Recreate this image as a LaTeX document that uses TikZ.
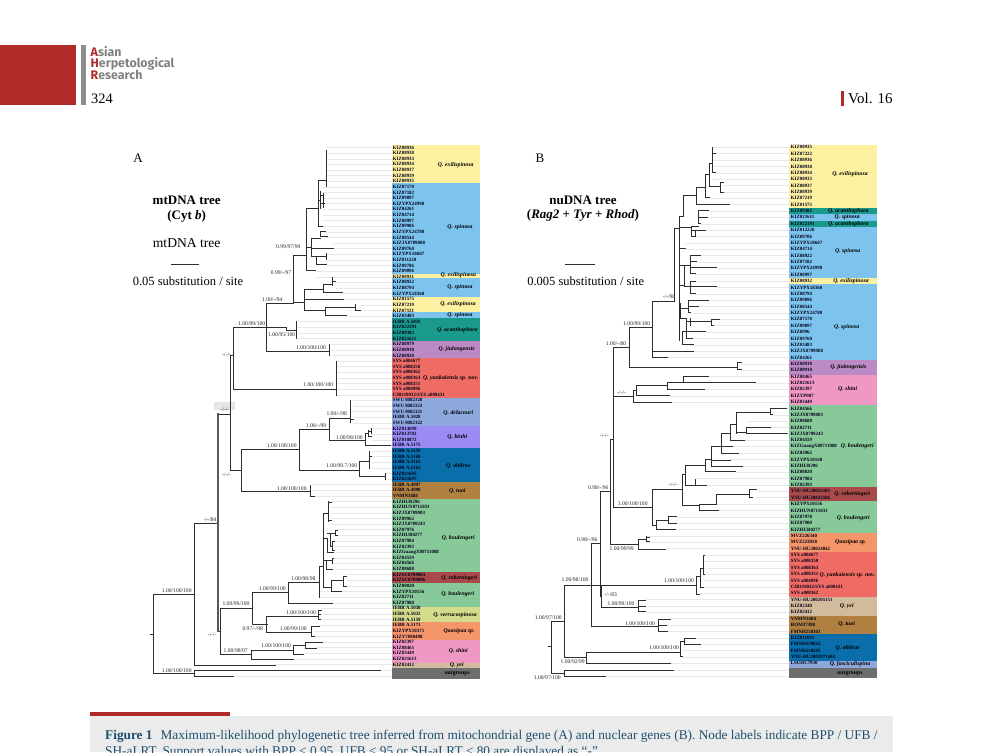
\documentclass[tikz,border=0pt]{standalone}
\usepackage{fontspec}
\setmainfont{Liberation Serif}
\newfontfamily\hdfont{Fira Sans}
\definecolor{cEx}{HTML}{FDF0A0}\definecolor{cSp}{HTML}{7CC4EE}\definecolor{cAc}{HTML}{1A9A8C}
\definecolor{cJi}{HTML}{BB8AC4}\definecolor{cYu}{HTML}{EF6C64}\definecolor{cDe}{HTML}{8EA8DC}
\definecolor{cBi}{HTML}{9A8CF2}\definecolor{cAh}{HTML}{0A6EAA}\definecolor{cTu}{HTML}{B08040}
\definecolor{cBo}{HTML}{88C99A}\definecolor{cRo}{HTML}{A84A4A}\definecolor{cVe}{HTML}{D3DC8C}
\definecolor{cQu}{HTML}{F4956A}\definecolor{cSh}{HTML}{F098C4}\definecolor{cYe}{HTML}{D2BA9C}
\definecolor{cOu}{HTML}{6E6E6E}\definecolor{cRed}{HTML}{B02A2A}\definecolor{cBar}{HTML}{8C8C8C}
\definecolor{cCap}{HTML}{1D4F6E}\definecolor{cBand}{HTML}{EBEBEB}\definecolor{cTip}{HTML}{E8E8E8}
\definecolor{cBr}{HTML}{2E2E2E}\definecolor{cHd}{HTML}{808080}
\tikzset{
 br/.style={draw=cBr,line width=1pt,line cap=rect},
 thickbr/.style={draw=cBr!80,line width=1.5pt,line cap=rect},
 tipline/.style={draw=cTip,line width=.45pt},
 taxon/.style={font=\fontsize{4.9}{5}\selectfont\bfseries,inner sep=0pt,anchor=west,text=black!90!blue},
 clade/.style={font=\fontsize{5.8}{7}\selectfont\bfseries\itshape,inner sep=0pt},
 outg/.style={font=\fontsize{5.8}{7}\selectfont\bfseries,inner sep=0pt},
 support/.style={font=\fontsize{5.6}{6}\selectfont,inner sep=0pt,text=black!85},
 ttl/.style={font=\fontsize{13}{15}\selectfont\bfseries,inner sep=0pt},
 sub/.style={font=\fontsize{13}{15}\selectfont,inner sep=0pt},
 panel/.style={font=\fontsize{13}{15}\selectfont,inner sep=0pt},
 hd/.style={font=\hdfont\fontsize{12.4}{13}\selectfont\bfseries,inner sep=0pt,anchor=west,text=cHd},
 pagenum/.style={font=\fontsize{14.4}{16}\selectfont,inner sep=0pt,anchor=west},
 captxt/.style={font=\fontsize{13.3}{15}\selectfont,inner sep=0pt,anchor=west,text=cCap},
}
\begin{document}
\begin{tikzpicture}[x=1pt,y=-1pt]
\useasboundingbox (0,0) rectangle (987,752);
% header
\fill[cRed] (0,45) rectangle (76,105);
\fill[cBar] (81,45) rectangle (85.7,105);
\node[hd] (j1) at (90.5,51.7) {\textcolor{cRed}{A}sian};
\node[hd] (j2) at (90.5,63.5) {\textcolor{cRed}{H}erpetological};
\node[hd] (j3) at (90.5,75) {\textcolor{cRed}{R}esearch};
\node[pagenum] (pg) at (91,99) {324};
\fill[cRed] (841,91) rectangle (844,106);
\node[pagenum,font=\fontsize{15}{16}\selectfont] (vol) at (848,98.5) {Vol. 16};
% caption
\fill[cBand] (90,716) rectangle (893,752);
\fill[cRed] (90,712) rectangle (230,716);
\node[captxt] (cap1) at (105,736) {\textbf{Figure 1}\hspace{.6em}Maximum-likelihood phylogenetic tree inferred from mitochondrial gene (A) and nuclear genes (B). Node labels indicate BPP / UFB /};
\node[captxt] (cap2) at (105,752) {SH-aLRT. Support values with BPP < 0.95, UFB < 95 or SH-aLRT < 80 are displayed as “-”.};
% panel titles
\node[panel] (pA) at (138,158) {A};
\node[ttl] (tA1) at (186.7,200.7) {mtDNA tree};
\node[ttl] (tA2) at (186.7,216) {(Cyt \textit{b})};
\node[sub,font=\fontsize{13.6}{15}\selectfont] (tA3) at (186.7,242.7) {mtDNA tree};
\coordinate (sA1) at (171.7,264.3); \coordinate (sA2) at (198.3,264.3);
\draw[br] (sA1) -- (sA2);
\node[sub,font=\fontsize{12.5}{15}\selectfont] (tA4) at (188,281) {0.05 substitution / site};
\node[panel] (pB) at (540,158) {B};
\node[ttl] (tB1) at (583,200.7) {nuDNA tree};
\node[ttl] (tB2) at (583,215.7) {(\textit{Rag2} + \textit{Tyr} + \textit{Rhod})};
\coordinate (sB1) at (565,264.7); \coordinate (sB2) at (594,264.7);
\draw[br] (sB1) -- (sB2);
\node[sub,font=\fontsize{12.5}{15}\selectfont] (tB3) at (585.7,281) {0.005 substitution / site};
% bands A
\foreach \a/\b/\c in {145/183/cEx,183/274/cSp,274/278.3/cEx,278.3/297/cSp,297/312/cEx,312/318/cSp,318/341/cAc,341/358/cJi,358/398/cYu,398/426/cDe,426/448/cBi,448/482/cAh,482/499/cTu,499/572/cBo,572/583/cRo,583/607/cBo,607/622/cVe,622/640/cQu,640/663/cSh,663/668/cYe,668/679/cOu}
 \fill[fill=\c] (392,\a) rectangle (480,\b);
% bands B
\foreach \a/\b/\c in {145/207.7/cEx,207.7/214/cAc,214/220.7/cSp,220.7/227.3/cAc,227.3/278/cSp,278/284/cEx,284/360/cSp,360/375/cJi,375/405/cSh,405/487.3/cBo,487.3/500.7/cRo,500.7/533.3/cBo,533.3/552.3/cQu,552.3/596.7/cYu,596.7/615.7/cYe,615.7/634.3/cTu,634.3/661/cAh,661/667.7/cDe,667.7/678.3/cOu}
 \fill[fill=\c] (789.3,\a) rectangle (876.7,\b);
% taxa A
\foreach \p/\t [count=\n] in {327/KIZ08936,327/KIZ08938,327/KIZ08933,327/KIZ08934,327/KIZ08937,327/KIZ08939,325/KIZ08935,323/KIZ07170,323/KIZ07182,324/KIZ09097,324/KIZYPX24998,323/KIZ04261,323/KIZ04714,324/KIZ08997,322/KIZ09906,324/KIZYPX24780,325/KIZ08544,333/KIZJX8709008,327/KIZ09760,327/KIZYPX18607,327/KIZ011220,327/KIZ09786,315/KIZ09096,315/KIZ08931,335/KIZ08922,335/KIZ08794,342/KIZYPX18360,343/KIZ01575,360/KIZ07219,347/KIZ07121,347/KIZ03483,299/IEBR A.5035,298/KIZ022191,298/KIZ09383,298/KIZ021611,331/KIZ08979,331/KIZ08918,331/KIZ08920,336/SYS a004677,336/SYS a008350,336/SYS a008362,336/SYS a008363,336/SYS a008351,336/SYS a004996,336/{CIB119032/SYS a009431},353/SWU 0082328,353/SWU 0082323,353/SWU 0082321,353/IEBR A.5028,353/SWU 0082322,372/KIZ013699,372/KIZ013702,372/KIZ010872,390/IEBR A.5175,372/IEBR A.5159,372/IEBR A.5160,372/IEBR A.5161,372/IEBR A.5162,386/KIZ021695,386/KIZ021697,312/IEBR A.4997,312/IEBR A.4998,315/VNMN3484,331/KIZHUB296,331/KIZHUN0711031,331/KIZJX8709003,331/KIZ09962,331/KIZJX8709243,337/KIZ07976,337/KIZHUB0277,335/KIZ07984,335/KIZ02393,333/KIZGuangX80711088,333/KIZ04559,333/KIZ04566,333/KIZ08688,347/KIZSC8709003,347/KIZSC8709006,342/KIZ08020,320/KIZYPX10156,320/KIZ02711,333/KIZ07980,321/IEBR A.5038,320/IEBR A.5032,320/IEBR A.5159,319/IEBR A.5171,314/KIZYPX10371,314/KIZY7080408,322/KIZ02397,317/KIZ08465,303/KIZ03449,293/KIZ021613,275/KIZ02412}{
 \pgfmathsetmacro\yy{147.5+5.62*(\n-1)}
 \draw[tipline] (\p,\yy) -- (392,\yy);
 \node[taxon] (ta\n) at (392.7,\yy) {\t};
}
\coordinate (oa1) at (380,670.7); \coordinate (oa2) at (233,676.3);
\coordinate (oa1e) at (392,670.7); \coordinate (oa2e) at (392,676.3);
\draw[tipline] (oa1) -- (oa1e); \draw[tipline] (oa2) -- (oa2e);
% taxa B
\foreach \p/\t [count=\n] in {712/KIZ08935,715/KIZ07222,713/KIZ08936,713/KIZ08938,715/KIZ08934,713/KIZ08933,723/KIZ08937,720/KIZ08939,710/KIZ07219,729/KIZ01575,708/KIZ09382,707/KIZ021611,700/KIZ022191,705/KIZ012220,695/KIZ09706,685/KIZYPX18607,686/KIZ04714,700/KIZ08922,696/KIZ07182,716/KIZYPX24998,695/KIZ08997,696/KIZ08932,716/KIZYPX18360,695/KIZ08794,708/KIZ09096,698/KIZ08544,690/KIZYPX24780,719/KIZ07170,711/KIZ09097,705/KIZ8996,692/KIZ09760,690/KIZ03483,693/KIZJX0709008,668/KIZ04261,741/KIZ08918,741/KIZ08910,708/KIZ08465,755/KIZ021613,704/KIZ02397,669/KIZYP087,671/KIZ03449,787/KIZ04566,771/KIZJX0709003,747/KIZ08688,770/KIZ02711,788/KIZJX0709243,744/KIZ04559,732/KIZGuangX80711088,738/KIZ03962,730/KIZYPX10160,743/KIZHUB296,735/KIZ08020,696/KIZ07984,706/KIZ02393,757/YNU-HU20025185,757/YNU-HU20025186,717/KIZYPX10156,718/KIZHUN0711031,677/KIZ07978,677/KIZ07980,675/KIZHUB0277,646/MVZ226340,646/MVZ223858,666/YNU-HU20024042,703/SYS a004677,703/SYS a008350,703/SYS a008363,703/SYS a008351,704/SYS a004996,704/{CIB119032/SYS a009431},700/SYS a008362,646/YNU-HU200205151,646/KIZ02340,646/KIZ02412,671/VNMN1604,667/ROM37398,668/FMNH258303,696/KIZ011695,700/FMNH259022,682/FMNH258205,682/YNU-HU2002071404,671/LSUHC7930}{
 \pgfmathsetmacro\yy{147.3+6.37*(\n-1)}
 \draw[tipline] (\p,\yy) -- (789.3,\yy);
 \node[taxon] (tb\n) at (790.7,\yy) {\t};
}
\coordinate (ob1) at (673,670); \coordinate (ob2) at (606,676);
\coordinate (ob1e) at (789,670); \coordinate (ob2e) at (789,676);
\draw[tipline] (ob1) -- (ob1e); \draw[tipline] (ob2) -- (ob2e);
% clades A
\foreach \x/\y/\t [count=\n] in {455.7/165.3/Q. exilispinosa,460/227/Q. spinosa,458.3/275.6/Q. exilispinosa,460/286.7/Q. spinosa,458/304/Q. exilispinosa,460/314.7/Q. spinosa,457.3/330/Q. acanthophora,456.7/349.3/Q. jiulongensis,450.7/377.7/Q. yunkaiensis sp. nov.,458.3/412.7/Q. delacouri,457.3/437.3/Q. binhi,458.3/466/Q. ahlirae,457.3/490.7/Q. tuoi,458.3/537.7/Q. boulengeri,459.3/578.3/Q. robertingeri,457.7/594.3/Q. boulengeri,455/615/Q. verrucospinosa,459/631/Quasipaa sp.,458.3/651/Q. shini,456.7/665/Q. yei}
 \node[clade] (ca\n) at (\x,\y) {\t};
\node[outg] (caO) at (457.3,673.7) {outgroups};
% clades B
\foreach \x/\y/\t [count=\n] in {850/174.3/Q. exilispinosa,848.3/210.7/Q. acanthophora,847.3/217.3/Q. spinosa,848.3/224/Q. acanthophora,847.7/251/Q. spinosa,851/281/Q. exilispinosa,846.7/326.7/Q. spinosa,848.3/366.7/Q. jiulongensis,847.7/389/Q. shini,857.3/445.7/Q. boulengeri,852.3/494/Q. robertingeri,853.3/518.3/Q. boulengeri,850.7/542/Quasipaa sp.,847.3/574.7/Q. yunkaiensis sp. nov.,846.7/606/Q. yei,846.7/624.3/Q. tuoi,847.7/648.3/Q. ahlirae,850/663.7/Q. fasciculispina}
 \node[clade] (cb\n) at (\x,\y) {\t};
\node[outg] (cbO) at (850,673) {outgroups};
% smudge
\fill[black!10] (214,402) rectangle (235,410);
% tree A horizontals
\foreach \a/\b/\c in {150/153/634,153/194/594,153/194/673,194/275/665,194/380/670.7,194/233/676.3,194/218/523,218/230/414,218/220/631,220/252.7/608,252.7/267/624,267/318/616.7,267/311/632.7,252.7/288/592.7,288/319/582,288/332.7/603,319/323.3/566.7,323.3/331/587.3,331/343/580,343/346/576,343/346/586.7,331/341.7/591.7,323.3/327/538.3,327/333/552.3,327/330.7/533.3,330.7/335/533.3,335/337/530,335/337/535,330.7/332/546.7,332/334/541.7,332/334/550,323.3/326.7/560,326.7/332/560,332/333/558,326.7/332.7/569.3,323.3/328/513.3,328/331/502.7,328/331/520.7,318/321/610,318/320/614,318/320/619,311/319/626,311/314/636,220/251.7/654,251.7/293.3/650,251.7/293/659.3,293.3/305.7/645,305.7/322.3/642.7,305.7/316.7/648.3,293.3/303.3/654,
 230/233.3/355,233.3/336/389.3,233.3/266.7/327,266.7/329/351,266.7/293.3/303,293.3/306.7/255,306.7/315/270.7,306.7/318/208,318/322/226,318/325/180,320.7/323/195,320.7/324/203,318/320.7/200,306.7/311.7/247,311.7/320/238.3,320/325/231.7,320/327.7/236.7,311.7/333/248.3,311.7/316.7/256.7,316.7/326.7/256.7,316.7/326.7/264.3,293.3/304.3/302.3,304.3/323.3/289.3,304.3/343.3/299.3,304.3/325/310,325/355/307,355/360/310,325/346.7/315,323.3/332.3/284,332.3/335/281,323.3/342.3/292.7,
 266.7/286/327.5,286/296.7/330,
 230/241.7/470.7,241.7/299.3/449.3,299.3/329.3/429,329.3/350.7/418.3,350.7/353/419,329.3/365.7/440.7,365.7/390/445.3,365.7/368.3/433.3,368.3/371.7/431,368.3/371.7/436.7,299.3/359.3/470,359.3/385/476.7,359.3/369.3/461.7,369.3/371/456,241.7/310/491.7,310/314/496.7}
 \draw[br] (\a,\c) -- (\b,\c);
% tree A verticals
\foreach \a/\b/\c in {153.3/594/673,194/523/665,194/670.7/676.3,230/355/470.7,220/608/654,252.7/592.7/624,266.7/616.7/632.7,288/582/603,319/566.7/597,323.3/513.3/587.3,331/580/591.7,343/576/586.7,327/538.3/552.3,330.7/533.3/546.7,335/530/535,332/541.7/550,326.7/560/569.3,332/558/563.3,328/501.7/521,318/610/619,311/626/636,251.7/650/659.3,293.3/645/654,305.7/642.7/648.3,
 233.3/327/389.3,336/361/395.7,266.7/303/351,329/344/355,293.3/255/303,306.7/208/270.7,318/180/226,326/150/186.7,320.7/191.7/208.3,323/193/207,311.7/238.3/256.7,320/231.7/236.7,316.7/256.7/264.3,326.7/253.3/259,304.3/289.3/310,325/307/315,355/304/310,323.3/284/292.7,332.3/277/285,
 286/327.5/330,296.7/321.7/338,
 241.7/449.3/491.7,299.3/429/470,329.3/418.3/440.7,350.7/400/422.3,365.7/433.3/445.3,368.3/430/436.7,371/428/433,359.3/461.7/476.7,385/473/479,369.3/451.7/468.3,310/485/496.7}
 \draw[br] (\a,\b) -- (\a,\c);
\coordinate (tkA1) at (218,414); \coordinate (tkA2) at (218,631);
\draw[thickbr] (tkA1) -- (tkA2);
% tree B horizontals
\foreach \a/\b/\c in {548/551.7/646.7,551.7/564.3/621.7,551.7/564/673,564/673.3/670,564/605.7/676,564.3/586.7/657.7,586.7/670.7/663.3,586.7/680.3/652.3,680.3/684.3/641.7,684.3/695.7/638.3,684.3/700/644.3,680.3/682/656.7,564.3/696.7/585,591.7/658.7/626.7,658.7/670.7/619,658.7/666.7/625,658.7/667.7/631.7,591.7/600/543.3,600/610.7/491.7,610.7/638.3/544,638.3/646/539.3,646/649/537,646/649/541.7,638.3/665.7/549,600/601.7/596.7,601/638.3/607.7,638.3/645.7/600,638.3/645.7/606,638.3/645.7/611.7,696.7/700/576.7,696.7/699/594,700/703.3/568.3,703.3/704/555,703.3/704/574,700/703/587,
 610.7/613.3/439,613.3/652.3/507,652.3/682.3/489,682.3/685/474,685/705/465,705/711/459.3,711/730/460,711/742.7/466,711/721/446.7,721/738.3/453,721/732.3/446.7,721/730/433,730/744/440,730/736.7/424,736.7/747/412.3,747/770.7/412.3,770.7/786.7/408.3,770.7/772/414,736.7/746.7/432,746.7/770/427.3,746.7/787.7/433.3,705/735/471.7,685/695.7/485,695.7/706/485,682.3/699.3/505,699.3/716.7/504,716.7/749.3/494.3,749.3/756.7/489,749.3/752/497.7,699.3/718.3/510.7,652.3/656.7/525,656.7/668.3/520,668.3/676.7/516.7,668.3/676.7/523.3,656.7/675/529.3,
 613.3/629.7/347.7,629.7/737.3/367.3,737.3/741/362,737.3/741/369,629.7/652.7/327.7,652.7/667.7/357,652.7/693.3/351,652.7/674.3/301,
 674.3/679.3/228,679.3/683.3/216,683.3/696.7/195,696.7/729/204,696.7/705.7/187,705.7/709.3/197.3,705.7/709/174.3,709/720/186.7,720/723/182,720/723/192,709/712.7/163.3,712.7/715/153,712.7/715/172.3,679.3/691.7/227,691.7/698.3/226,698.3/708.3/210.7,698.3/707.7/217.3,698.3/700/223.3,691.7/705/230,691.7/695/236.7,679.3/685.7/248.7,
 679.3/684/265,684/690/265,690/700/255.7,690/696/261.7,690/716/267.7,690/695/273.3,679.3/684/285,684/690/286.7,690/695/281.7,690/716/286.7,690/695/293.3,679/680.7/303,680.7/688.3/308.3,688.3/708.3/300,688.3/698.3/306,688.3/690/312.3,680.7/686/318,686/690/321.7,690/711.7/321.7,711.7/719.3/319.3,711.7/713/325,686/692.3/338.3,682.3/690/331.7,690/705.7/331.7,682.3/693.3/344.3,
 613.3/633.3/396,633.3/671/402.3,633.3/636.7/390,636.7/669.3/395.7,636.7/667.7/385,667.7/704.3/389.3,667.7/755/382.7,683.3/708.3/376.7}
 \draw[br] (\a,\c) -- (\b,\c);
% tree B verticals
\foreach \a/\b/\c in {551.7/621.7/673,564.3/585/657.7,564/670/676,586.7/652.3/663.3,680.3/641.7/656.7,684.3/638.3/644.3,591.7/543.3/626.7,658.7/619/631.7,600/491.7/596.7,610.7/439/544,638.3/539.3/549,646/536.7/541.7,601/585/607.7,638.3/600/611.7,696.7/576.7/594,700/568.3/587,703.3/555/574,
 613.3/347.7/507,652.3/489/525,682.3/474/505,685/465/485,705/459.3/471.7,711/446.7/466.7,721/433/453,730/424/440,736.7/412.3/433.3,770.7/408.3/414,746.7/427.3/433.3,695.7/479/485,699.3/504/510.7,716.7/494.3/504,749.3/489/497.7,656.7/520/529.3,668.3/516.7/523.3,
 629.7/327.7/367.3,737.3/362/369,652.7/301/357,674.3/228/301,679.3/216/340,683.3/195/216,696.7/187/204,705.7/174.3/197.3,709/163.3/186.7,720/182/192,712.7/147/172.3,691.7/226/236.7,698.3/210.7/223.3,695/230/236.7,
 684/265/285,690/255.7/273.3,690/281.7/293.3,680.7/303/318,688.3/300/312.3,686/318/338.3,690/318/325,711.7/319.3/325,682.3/331.7/344.3,
 633.3/390/402.3,636.7/385/395.7,667.7/383.3/389.3,683.3/376.7/382.7}
 \draw[br] (\a,\b) -- (\a,\c);
% support A
\foreach \x/\y/\t [count=\n] in {288.3/246.7/{0.99/97/99},281/272.7/{0.99/-/97},272.3/300/{1.00/-/94},251.7/323.3/{1.00/99/100},281.7/334.3/{1.00/95/100},311/347.3/{1.00/100/100},226.7/355/{-/-/-},318.3/385/{1.00/100/100},225/410/{-/-/-},336.7/414/{1.00/-/98},316/426/{1.00/-/99},349.3/437.3/{1.00/98/100},281.7/446/{1.00/100/100},341.7/466/{1.00/99.7/100},226.7/474.3/{-/-/-},291.7/488.3/{1.00/100/100},210/519.3/{-/-/84},303.3/579/{1.00/98/98},272.3/589/{1.00/99/100},176.7/591/{1.00/100/100},236/604/{1.00/99/100},301/612.3/{1.00/100/100},252.7/628.3/{0.97/-/98},293.3/629/{1.00/99/100},212.3/635/{-/-/-},276/646/{1.00/100/100},235.7/650.7/{1.00/98/97},176.7/670.7/{1.00/100/100}}
 \node[support] (sa\n) at (\x,\y) {\t};
% support B
\foreach \x/\y/\t [count=\n] in {669/296.7/{-/-/98},636.7/323.3/{1.00/99/100},616/343.3/{1.00/-/80},621.7/392.3/{-/-/-},604.3/435.7/{-/-/-},598.3/487.7/{0.98/-/96},673.3/485/{-/-/-},632.7/503.3/{1.00/100/100},587.3/540/{0.98/-/96},621.7/548.3/{1.00/99/99},575/580/{1.00/98/100},679/581/{1.00/100/100},610.7/594.3/{-/-/83},621/604/{1.00/99/100},548.3/617.7/{1.00/97/100},640/623.3/{1.00/100/100},664/647.7/{1.00/100/100},572.7/661.3/{1.00/92/99},547.3/678/{1.00/97/100}}
 \node[support] (sb\n) at (\x,\y) {\t};
\end{tikzpicture}
\end{document}
